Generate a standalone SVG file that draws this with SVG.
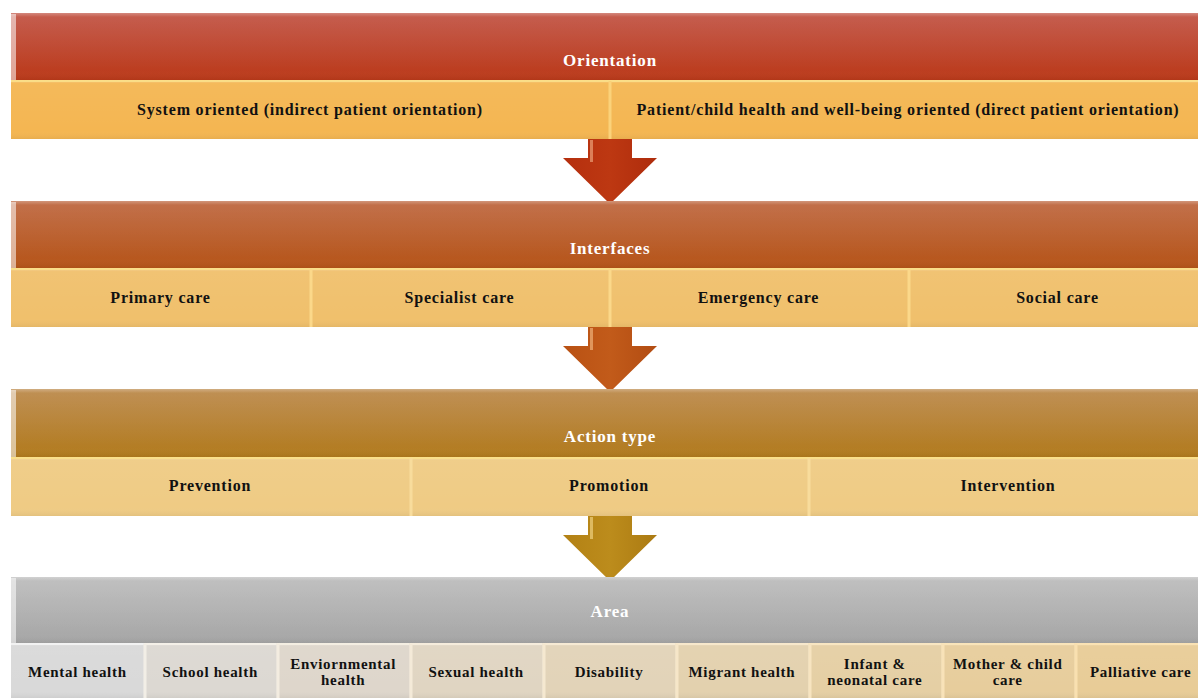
<svg xmlns="http://www.w3.org/2000/svg" width="1198" height="698" viewBox="0 0 1198 698">
<defs>
<linearGradient id="h1" x1="0" y1="0" x2="0" y2="1"><stop offset="0" stop-color="#c25546"/><stop offset="1" stop-color="#bb3a1a"/></linearGradient>
<linearGradient id="h2" x1="0" y1="0" x2="0" y2="1"><stop offset="0" stop-color="#bf6942"/><stop offset="1" stop-color="#b65519"/></linearGradient>
<linearGradient id="h3" x1="0" y1="0" x2="0" y2="1"><stop offset="0" stop-color="#bc8a4c"/><stop offset="1" stop-color="#b27b1e"/></linearGradient>
<linearGradient id="h4" x1="0" y1="0" x2="0" y2="1"><stop offset="0" stop-color="#bdbdbd"/><stop offset="1" stop-color="#a6a6a6"/></linearGradient>
<linearGradient id="gloss" x1="0" y1="0" x2="0" y2="1"><stop offset="0" stop-color="#fff" stop-opacity="0.3"/><stop offset="0.06" stop-color="#fff" stop-opacity="0.05"/><stop offset="0.85" stop-color="#fff" stop-opacity="0"/><stop offset="1" stop-color="#000" stop-opacity="0.05"/></linearGradient>
<linearGradient id="a1" x1="0" y1="0" x2="1" y2="0"><stop offset="0" stop-color="#b52f0e"/><stop offset="0.5" stop-color="#bd3812"/><stop offset="1" stop-color="#ae2c0c"/></linearGradient>
<linearGradient id="a2" x1="0" y1="0" x2="1" y2="0"><stop offset="0" stop-color="#b95113"/><stop offset="0.5" stop-color="#c25b1a"/><stop offset="1" stop-color="#b24c12"/></linearGradient>
<linearGradient id="a3" x1="0" y1="0" x2="1" y2="0"><stop offset="0" stop-color="#b38114"/><stop offset="0.5" stop-color="#bc8c1c"/><stop offset="1" stop-color="#ab7a12"/></linearGradient>
</defs>
<style>
.hd{font-family:"Liberation Serif","DejaVu Serif",serif;font-weight:bold;font-size:17px;fill:#ffffff;text-anchor:middle;letter-spacing:0.8px}
.tx{font-family:"Liberation Serif","DejaVu Serif",serif;font-weight:bold;font-size:16px;fill:#111111;text-anchor:middle;letter-spacing:0.8px}
.ts{font-family:"Liberation Serif","DejaVu Serif",serif;font-weight:bold;font-size:15px;fill:#111111;text-anchor:middle;letter-spacing:0.7px}
.gl{fill:url(#gloss)}
.cl{stroke:#fbe08a;stroke-width:2;stroke-opacity:0.9}
.lf{fill:#ffffff;fill-opacity:0.55}
</style>

<g id="connectors">
<g id="arrow1"><path d="M588,139 H632 V158 H657 L610,204 L563,158 H588 Z" fill="url(#a1)"/><rect x="590" y="140" width="3" height="22" fill="#f3b28a" fill-opacity="0.6"/></g>
<g id="arrow2"><path d="M588,327 H632 V346 H657 L610,392 L563,346 H588 Z" fill="url(#a2)"/><rect x="590" y="328" width="3" height="22" fill="#f6c08a" fill-opacity="0.6"/></g>
<g id="arrow3"><path d="M588,516 H632 V535 H657 L610,581 L563,535 H588 Z" fill="url(#a3)"/><rect x="590" y="517" width="3" height="22" fill="#f7dc90" fill-opacity="0.6"/></g>
</g>

<g id="band-orientation">
<g id="orientation-header"><rect x="11" y="13" width="1198" height="67" fill="url(#h1)"/><rect x="11" y="13" width="1198" height="67" class="gl"/><rect x="11" y="14" width="5" height="66" class="lf"/><text class="hd" x="610" y="66">Orientation</text></g>
<g id="orientation-system"><rect x="11" y="80" width="598" height="59" fill="#f4b652"/><rect x="11" y="80" width="598" height="59" class="gl"/><line x1="11" y1="81" x2="609" y2="81" class="cl"/><text class="tx" x="310" y="115">System oriented (indirect patient orientation)</text></g>
<g id="orientation-patient"><rect x="609" y="80" width="600" height="59" fill="#f4b652"/><rect x="609" y="80" width="600" height="59" class="gl"/><line x1="609" y1="81" x2="1209" y2="81" class="cl"/><line x1="610" y1="81" x2="610" y2="139" stroke="#fbd27a" stroke-width="3"/><text class="tx" x="908" y="115">Patient/child health and well-being oriented (direct patient orientation)</text></g>
</g>

<g id="band-interfaces">
<g id="interfaces-header"><rect x="11" y="201" width="1198" height="67" fill="url(#h2)"/><rect x="11" y="201" width="1198" height="67" class="gl"/><rect x="11" y="202" width="5" height="66" class="lf"/><text class="hd" x="610" y="254">Interfaces</text></g>
<g id="cell-primary"><rect x="11" y="268" width="299" height="59" fill="#f0c06c"/><rect x="11" y="268" width="299" height="59" class="gl"/><line x1="11" y1="269" x2="310" y2="269" class="cl"/><text class="tx" x="160.5" y="303">Primary care</text></g>
<g id="cell-specialist"><rect x="310" y="268" width="299" height="59" fill="#f0c06c"/><rect x="310" y="268" width="299" height="59" class="gl"/><line x1="310" y1="269" x2="609" y2="269" class="cl"/><line x1="311" y1="269" x2="311" y2="327" stroke="#fbd88a" stroke-width="3"/><text class="tx" x="459.5" y="303">Specialist care</text></g>
<g id="cell-emergency"><rect x="609" y="268" width="299" height="59" fill="#f0c06c"/><rect x="609" y="268" width="299" height="59" class="gl"/><line x1="609" y1="269" x2="908" y2="269" class="cl"/><line x1="610" y1="269" x2="610" y2="327" stroke="#fbd88a" stroke-width="3"/><text class="tx" x="758.5" y="303">Emergency care</text></g>
<g id="cell-social"><rect x="908" y="268" width="301" height="59" fill="#f0c06c"/><rect x="908" y="268" width="301" height="59" class="gl"/><line x1="908" y1="269" x2="1209" y2="269" class="cl"/><line x1="909" y1="269" x2="909" y2="327" stroke="#fbd88a" stroke-width="3"/><text class="tx" x="1057.5" y="303">Social care</text></g>
</g>

<g id="band-action">
<g id="action-header"><rect x="11" y="389" width="1198" height="68" fill="url(#h3)"/><rect x="11" y="389" width="1198" height="68" class="gl"/><rect x="11" y="390" width="5" height="67" class="lf"/><text class="hd" x="610" y="442">Action type</text></g>
<g id="cell-prevention"><rect x="11" y="457" width="399" height="59" fill="#efcb84"/><rect x="11" y="457" width="399" height="59" class="gl"/><line x1="11" y1="458" x2="410" y2="458" class="cl"/><text class="tx" x="210" y="491">Prevention</text></g>
<g id="cell-promotion"><rect x="410" y="457" width="398" height="59" fill="#efcb84"/><rect x="410" y="457" width="398" height="59" class="gl"/><line x1="410" y1="458" x2="808" y2="458" class="cl"/><line x1="411" y1="458" x2="411" y2="516" stroke="#f8dc9c" stroke-width="3"/><text class="tx" x="609" y="491">Promotion</text></g>
<g id="cell-intervention"><rect x="808" y="457" width="401" height="59" fill="#efcb84"/><rect x="808" y="457" width="401" height="59" class="gl"/><line x1="808" y1="458" x2="1209" y2="458" class="cl"/><line x1="809" y1="458" x2="809" y2="516" stroke="#f8dc9c" stroke-width="3"/><text class="tx" x="1008" y="491">Intervention</text></g>
</g>

<g id="band-area">
<g id="area-header"><rect x="11" y="577" width="1198" height="66" fill="url(#h4)"/><rect x="11" y="577" width="1198" height="66" class="gl"/><rect x="11" y="578" width="5" height="65" class="lf"/><text class="hd" x="610" y="617">Area</text></g>
<g id="cell-mental"><rect x="11" y="643" width="132.9" height="55" fill="#d9d9d9"/><rect x="11" y="643" width="132.9" height="55" class="gl"/><line x1="11" y1="644" x2="143.9" y2="644" stroke="#f2f2f2" stroke-width="2"/><text class="ts" x="77.4" y="677">Mental health</text></g>
<g id="cell-school"><rect x="143.9" y="643" width="132.9" height="55" fill="#dcd8d2"/><rect x="143.9" y="643" width="132.9" height="55" class="gl"/><line x1="143.9" y1="644" x2="276.8" y2="644" stroke="#f4f0e8" stroke-width="2"/><line x1="145" y1="644" x2="145" y2="698" stroke="#f2eee6" stroke-width="3"/><text class="ts" x="210.3" y="677">School health</text></g>
<g id="cell-env"><rect x="276.8" y="643" width="132.9" height="55" fill="#ded6cb"/><rect x="276.8" y="643" width="132.9" height="55" class="gl"/><line x1="276.8" y1="644" x2="409.7" y2="644" stroke="#f4eee2" stroke-width="2"/><line x1="278" y1="644" x2="278" y2="698" stroke="#f3ece0" stroke-width="3"/><text class="ts" x="343.2" y="669">Enviornmental</text><text class="ts" x="343.2" y="685">health</text></g>
<g id="cell-sexual"><rect x="409.7" y="643" width="132.9" height="55" fill="#e0d5c2"/><rect x="409.7" y="643" width="132.9" height="55" class="gl"/><line x1="409.7" y1="644" x2="542.6" y2="644" stroke="#f5ecdc" stroke-width="2"/><line x1="411" y1="644" x2="411" y2="698" stroke="#f4ead8" stroke-width="3"/><text class="ts" x="476.1" y="677">Sexual health</text></g>
<g id="cell-disability"><rect x="542.6" y="643" width="132.9" height="55" fill="#e2d3b8"/><rect x="542.6" y="643" width="132.9" height="55" class="gl"/><line x1="542.6" y1="644" x2="675.5" y2="644" stroke="#f6ead4" stroke-width="2"/><line x1="544" y1="644" x2="544" y2="698" stroke="#f5e8d0" stroke-width="3"/><text class="ts" x="609" y="677">Disability</text></g>
<g id="cell-migrant"><rect x="675.5" y="643" width="132.9" height="55" fill="#e3d1ae"/><rect x="675.5" y="643" width="132.9" height="55" class="gl"/><line x1="675.5" y1="644" x2="808.4" y2="644" stroke="#f7e8cc" stroke-width="2"/><line x1="677" y1="644" x2="677" y2="698" stroke="#f6e6c8" stroke-width="3"/><text class="ts" x="741.9" y="677">Migrant health</text></g>
<g id="cell-infant"><rect x="808.4" y="643" width="132.9" height="55" fill="#e5cfa4"/><rect x="808.4" y="643" width="132.9" height="55" class="gl"/><line x1="808.4" y1="644" x2="941.3" y2="644" stroke="#f8e6c2" stroke-width="2"/><line x1="810" y1="644" x2="810" y2="698" stroke="#f7e4c0" stroke-width="3"/><text class="ts" x="874.8" y="669">Infant &amp;</text><text class="ts" x="874.8" y="685">neonatal care</text></g>
<g id="cell-mother"><rect x="941.3" y="643" width="132.9" height="55" fill="#e7cd9c"/><rect x="941.3" y="643" width="132.9" height="55" class="gl"/><line x1="941.3" y1="644" x2="1074.2" y2="644" stroke="#f9e4ba" stroke-width="2"/><line x1="943" y1="644" x2="943" y2="698" stroke="#f8e2b8" stroke-width="3"/><text class="ts" x="1007.7" y="669">Mother &amp; child</text><text class="ts" x="1007.7" y="685">care</text></g>
<g id="cell-palliative"><rect x="1074.2" y="643" width="134.8" height="55" fill="#e8cc97"/><rect x="1074.2" y="643" width="134.8" height="55" class="gl"/><line x1="1074.2" y1="644" x2="1209" y2="644" stroke="#fae2b4" stroke-width="2"/><line x1="1076" y1="644" x2="1076" y2="698" stroke="#f9e0b0" stroke-width="3"/><text class="ts" x="1140.6" y="677">Palliative care</text></g>
</g>
</svg>
